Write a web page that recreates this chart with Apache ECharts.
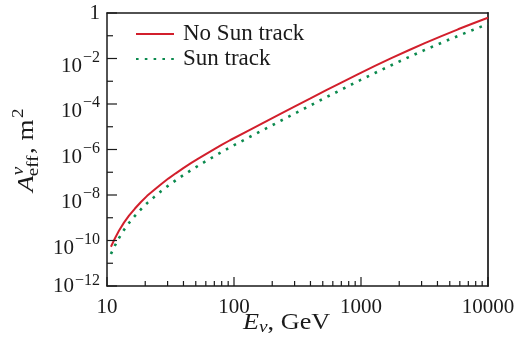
<!DOCTYPE html>
<html>
<head>
<meta charset="utf-8">
<script src="https://cdn.jsdelivr.net/npm/echarts@6/dist/echarts.min.js"></script>
<style>
html,body{margin:0;padding:0;background:#fff;}
#chart{width:519px;height:349px;}
</style>
</head>
<body>
<div id="chart"></div>
<script>
// Neutrino energy, GeV
const energyGeV = [10.74, 11.56, 12.42, 13.6, 14.9, 16.6, 18.5, 20.7, 23.6, 26.8, 30.4, 34.8, 39.9, 45.8, 52.7, 60.5, 70, 80.5, 93, 130, 167, 230, 299, 400, 533, 700, 959, 1300, 1750, 2400, 3180, 4300, 5810, 7500, 9180, 10000];
// Effective area, m^2
const noSunTrack = [5.33e-11, 1.26e-10, 2.67e-10, 6.11e-10, 1.23e-9, 2.54e-9, 4.93e-9, 9.18e-9, 1.69e-8, 3.05e-8, 5.27e-8, 8.99e-8, 1.52e-7, 2.50e-7, 4.06e-7, 6.44e-7, 1.03e-6, 1.62e-6, 2.55e-6, 6.81e-6, 1.42e-5, 3.58e-5, 7.67e-5, 1.77e-4, 4.04e-4, 8.73e-4, 2.11e-3, 4.83e-3, 1.06e-2, 2.37e-2, 4.72e-2, 9.64e-2, 0.192, 0.337, 0.518, 0.617];
const sunTrack = [2.55e-11, 6.04e-11, 1.28e-10, 2.92e-10, 5.89e-10, 1.22e-9, 2.36e-9, 4.40e-9, 8.28e-9, 1.50e-8, 2.58e-8, 4.41e-8, 7.45e-8, 1.22e-7, 1.99e-7, 3.16e-7, 5.06e-7, 7.93e-7, 1.25e-6, 3.33e-6, 6.93e-6, 1.75e-5, 3.76e-5, 8.67e-5, 1.98e-4, 4.28e-4, 1.04e-3, 2.37e-3, 5.19e-3, 1.18e-2, 2.38e-2, 4.90e-2, 9.86e-2, 0.175, 0.273, 0.327];
const seriesNames = ['No Sun track', 'Sun track'];
// Axis ranges and tick values
const X_MIN = 10, X_MAX = 10000;
const Y_MIN = 1e-12, Y_MAX = 1;
const xMajorTicks = [10, 100, 1000, 10000];
const xMinorTicks = [20, 30, 40, 50, 60, 70, 80, 90, 200, 300, 400, 500, 600, 700, 800, 900, 2000, 3000, 4000, 5000, 6000, 7000, 8000, 9000];
const yMajorTicks = [1e-12, 1e-10, 1e-8, 1e-6, 1e-4, 1e-2, 1];
const yMinorTicks = [1e-11, 1e-9, 1e-7, 1e-5, 1e-3, 1e-1];

const FONT = '"Liberation Serif", "Times New Roman", serif';
const RED = '#d21f2c';
const GREEN = '#0b8a4e';
const INK = '#1a1a1a';

const chart = echarts.init(document.getElementById('chart'), null, {renderer: 'canvas'});

function pairs(xs, ys) { return xs.map((x, i) => [x, ys[i]]); }

// Inward tick marks placed through the axes' own scales
function tickSeries(values, isX, len) {
  return {
    type: 'custom', xAxisIndex: 0, yAxisIndex: 0, silent: true, clip: false, z: 5,
    data: values.map(v => isX ? [v, Y_MIN] : [X_MIN, v]),
    renderItem: function (params, api) {
      const p = api.coord([api.value(0), api.value(1)]);
      return {
        type: 'line',
        shape: isX ? {x1: p[0], y1: p[1], x2: p[0], y2: p[1] - len} : {x1: p[0], y1: p[1], x2: p[0] + len, y2: p[1]},
        style: {stroke: INK, lineWidth: 1.2}
      };
    }
  };
}

const option = {
  animation: false,
  backgroundColor: '#fff',
  grid: {show: false, left: 107, right: 31, top: 13, bottom: 63},
  legend: {
    data: seriesNames,
    orient: 'vertical',
    left: 135, top: 22,
    padding: 0,
    itemWidth: 38, itemHeight: 14, itemGap: 1,
    itemStyle: {opacity: 0},
    textStyle: {fontFamily: FONT, fontSize: 23, color: INK, lineHeight: 24, padding: [0, 0, 0, 4]}
  },
  xAxis: [
    {
      type: 'log', logBase: 10, min: X_MIN, max: X_MAX, interval: 1, position: 'bottom',
      axisLine: {show: true, lineStyle: {color: INK, width: 1.5}},
      axisTick: {show: false},
      axisLabel: {show: true, margin: 11, fontFamily: FONT, fontSize: 21, color: INK, formatter: v => String(Math.round(v))},
      splitLine: {show: false}, minorTick: {show: false}
    },
    {
      type: 'log', logBase: 10, min: X_MIN, max: X_MAX, position: 'top',
      axisLine: {show: true, lineStyle: {color: INK, width: 1.5}},
      axisTick: {show: false}, axisLabel: {show: false}, splitLine: {show: false}
    }
  ],
  yAxis: [
    {
      type: 'log', logBase: 10, min: Y_MIN, max: Y_MAX, interval: 2, position: 'left',
      axisLine: {show: true, lineStyle: {color: INK, width: 1.5}},
      axisTick: {show: false},
      axisLabel: {
        show: true, margin: 7, fontFamily: FONT, color: INK,
        formatter: v => {
          const e = Math.round(Math.log10(v));
          if (e === 0) return '{one|1}';
          if (e === -12) return '{b2|10}{s2|\u2212' + Math.abs(e) + '}';
          return '{b|10}{s|\u2212' + Math.abs(e) + '}';
        },
        rich: {
          one: {fontFamily: FONT, fontSize: 21, lineHeight: 21, color: INK},
          b: {fontFamily: FONT, fontSize: 21, lineHeight: 21, padding: [15, 0, 0, 0], color: INK},
          s: {fontFamily: FONT, fontSize: 16, lineHeight: 16, padding: [0, 0, 2, 1], color: INK},
          b2: {fontFamily: FONT, fontSize: 21, lineHeight: 21, padding: [1, 0, 0, 0], color: INK},
          s2: {fontFamily: FONT, fontSize: 16, lineHeight: 16, padding: [0, 0, 10, 1], color: INK}
        }
      },
      splitLine: {show: false}, minorTick: {show: false}
    },
    {
      type: 'log', logBase: 10, min: Y_MIN, max: Y_MAX, position: 'right',
      axisLine: {show: true, lineStyle: {color: '#3a3a3a', width: 2}},
      axisTick: {show: false}, axisLabel: {show: false}, splitLine: {show: false}
    }
  ],
  series: [
    {
      name: seriesNames[0], type: 'line', xAxisIndex: 0, yAxisIndex: 0,
      data: pairs(energyGeV, noSunTrack),
      showSymbol: false, symbol: 'none', smooth: false,
      lineStyle: {color: RED, width: 2}, itemStyle: {color: RED}, z: 3
    },
    {
      name: seriesNames[1], type: 'line', xAxisIndex: 0, yAxisIndex: 0,
      data: pairs(energyGeV, sunTrack),
      showSymbol: false, symbol: 'none', smooth: false,
      lineStyle: {color: GREEN, width: 2.6, type: [2.6, 6.2], cap: 'butt'}, itemStyle: {color: GREEN}, z: 2
    },
    tickSeries(xMajorTicks, true, 9),
    tickSeries(xMinorTicks, true, 5),
    tickSeries(yMajorTicks, false, 10),
    tickSeries(yMinorTicks, false, 6)
  ],
  graphic: [
    {
      type: 'group', x: 34, y: 192, rotation: Math.PI / 2, scaleX: 1.12,
      children: [
        {type: 'text', x: 0, y: -7.5, style: {text: 'A', font: 'italic 24px ' + FONT, fill: INK, verticalAlign: 'middle', align: 'left'}},
        {type: 'text', x: 15, y: -15, style: {text: '\u03bd', font: 'italic 17px ' + FONT, fill: INK, verticalAlign: 'middle', align: 'left'}},
        {type: 'text', x: 14, y: -0.5, style: {text: 'eff', font: '17px ' + FONT, fill: INK, verticalAlign: 'middle', align: 'left'}},
        {type: 'text', x: 34, y: -7.5, style: {text: ', m', font: '24px ' + FONT, fill: INK, verticalAlign: 'middle', align: 'left'}},
        {type: 'text', x: 66, y: -15, style: {text: '2', font: '17px ' + FONT, fill: INK, verticalAlign: 'middle', align: 'left'}}
      ]
    },
    {
      type: 'text', x: 243, y: 311, scaleX: 1.14,
      style: {
        text: '{i|E}{s|\u03bd}{n|, GeV}',
        rich: {
          i: {fontFamily: FONT, fontStyle: 'italic', fontSize: 23, lineHeight: 23, fill: INK},
          s: {fontFamily: FONT, fontStyle: 'italic', fontSize: 17, lineHeight: 17, padding: [10, 0, 0, 0], fill: INK},
          n: {fontFamily: FONT, fontSize: 23, lineHeight: 23, fill: INK}
        }
      }
    }
  ]
};
chart.setOption(option);
</script>
</body>
</html>
